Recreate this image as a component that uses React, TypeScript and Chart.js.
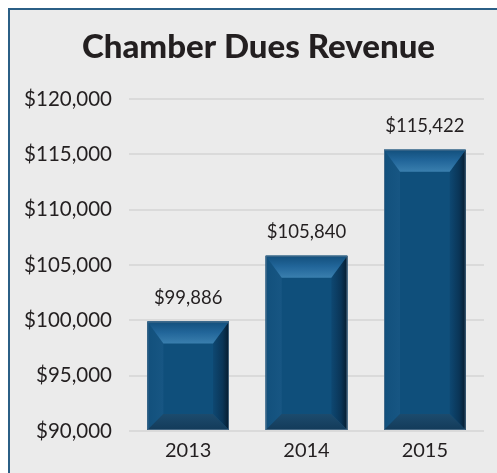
import React, { useEffect, useRef } from "react";
import { Chart, registerables } from "chart.js";

Chart.register(...registerables);

const categories = ["2013", "2014", "2015"];
const revenue = [99886, 105840, 115422];
const yMin = 90000;
const yMax = 120000;
const yStep = 5000;
const chartTitle = "Chamber Dues Revenue";

const fmt = (v: number) => "$" + v.toLocaleString("en-US");

const titlePlugin = {
  id: "shiftedTitle",
  afterDraw(chart: any) {
    const ctx = chart.ctx;
    ctx.save();
    ctx.font = "900 33px Lato";
    ctx.fillStyle = "#231f20";
    ctx.textAlign = "center";
    ctx.textBaseline = "middle";
    ctx.fillText(chartTitle, chart.width / 2 + 5, 37);
    ctx.restore();
  },
};

const bevelPlugin = {
  id: "bevel",
  afterDatasetsDraw(chart: any) {
    const ctx = chart.ctx;
    const meta = chart.getDatasetMeta(0);
    const area = chart.chartArea;
    meta.data.forEach((bar: any) => {
      const p = bar.getProps(["x", "y", "base", "width"], true);
      const l = p.x - p.width / 2;
      const r = p.x + p.width / 2;
      const t = p.y;
      const b = Math.min(p.base, area.bottom);
      const s = 16;
      const bt = 22;
      const bb = 16;
      ctx.save();
      ctx.fillStyle = "#0f4f7b";
      ctx.fillRect(l, t, r - l, b - t);
      let g = ctx.createLinearGradient(l, 0, l + s, 0);
      g.addColorStop(0, "#12507c");
      g.addColorStop(1, "#175683");
      ctx.fillStyle = g;
      ctx.beginPath();
      ctx.moveTo(l, t);
      ctx.lineTo(l + s, t + bt);
      ctx.lineTo(l + s, b - bb);
      ctx.lineTo(l, b);
      ctx.closePath();
      ctx.fill();
      g = ctx.createLinearGradient(r - s, 0, r, 0);
      g.addColorStop(0, "#0e4872");
      g.addColorStop(0.6, "#0a3557");
      g.addColorStop(1, "#061c2e");
      ctx.fillStyle = g;
      ctx.beginPath();
      ctx.moveTo(r, t);
      ctx.lineTo(r - s, t + bt);
      ctx.lineTo(r - s, b - bb);
      ctx.lineTo(r, b);
      ctx.closePath();
      ctx.fill();
      g = ctx.createLinearGradient(0, t, 0, t + bt);
      g.addColorStop(0, "#124f7c");
      g.addColorStop(0.5, "#22669a");
      g.addColorStop(1, "#3a7fae");
      ctx.fillStyle = g;
      ctx.beginPath();
      ctx.moveTo(l, t);
      ctx.lineTo(r, t);
      ctx.lineTo(r - s, t + bt);
      ctx.lineTo(l + s, t + bt);
      ctx.closePath();
      ctx.fill();
      g = ctx.createLinearGradient(0, b - bb, 0, b);
      g.addColorStop(0, "#1c4b6d");
      g.addColorStop(1, "#133b5a");
      ctx.fillStyle = g;
      ctx.beginPath();
      ctx.moveTo(l, b);
      ctx.lineTo(r, b);
      ctx.lineTo(r - s, b - bb);
      ctx.lineTo(l + s, b - bb);
      ctx.closePath();
      ctx.fill();
      ctx.strokeStyle = "rgba(90,120,145,0.7)";
      ctx.lineWidth = 1;
      ctx.strokeRect(l + 0.5, t + 0.5, r - l - 1, b - t - 1);
      ctx.restore();
    });
  },
};

const labelPlugin = {
  id: "valueLabels",
  afterDatasetsDraw(chart: any) {
    const ctx = chart.ctx;
    const meta = chart.getDatasetMeta(0);
    const data = chart.data.datasets[0].data;
    ctx.save();
    ctx.font = "18.5px Lato";
    ctx.fillStyle = "#231f20";
    ctx.textAlign = "center";
    ctx.textBaseline = "middle";
    meta.data.forEach((bar: any, i: number) => {
      ctx.fillText(fmt(data[i]), bar.x, bar.y - 24);
    });
    ctx.restore();
  },
};

export default function App() {
  const ref = useRef<HTMLCanvasElement>(null);
  useEffect(() => {
    document.body.style.margin = "0";
    const chart = new Chart(ref.current!, {
      type: "bar",
      data: {
        labels: categories,
        datasets: [
          {
            data: revenue,
            backgroundColor: "#0f4f7b",
            barPercentage: 0.69,
            categoryPercentage: 1,
            base: yMin,
          },
        ],
      },
      options: {
        animation: false,
        responsive: false,
        layout: { padding: { left: 0, right: 13, top: 89, bottom: 2 } },
        plugins: {
          legend: { display: false },
          tooltip: { enabled: false },
          title: { display: false },
        },
        scales: {
          x: {
            grid: { display: false, drawTicks: false },
            border: { display: false },
            ticks: { color: "#231f20", font: { family: "Lato", size: 20 }, padding: 8 },
          },
          y: {
            min: yMin,
            max: yMax,
            afterFit: (s: any) => {
              s.width = 119;
            },
            ticks: {
              stepSize: yStep,
              color: "#231f20",
              font: { family: "Lato", size: 20.5 },
              padding: 17,
              callback: (v: any) => fmt(Number(v)),
            },
            grid: { color: "#dadada", lineWidth: 2, drawTicks: false },
            border: { display: false },
          },
        },
      },
      plugins: [bevelPlugin, labelPlugin, titlePlugin],
    });
    return () => chart.destroy();
  }, []);
  return (
    <div style={{ padding: "8px 0 0 8px", width: 497, height: 473, boxSizing: "border-box", overflow: "hidden" }}>
      <div
        style={{
          width: 489,
          height: 465,
          boxSizing: "border-box",
          borderLeft: "2px solid #2b5f86",
          borderTop: "2px solid #2b5f86",
          background: "#ebebeb",
          overflow: "hidden",
        }}
      >
        <canvas ref={ref} width={487} height={463} style={{ display: "block" }} />
      </div>
    </div>
  );
}
